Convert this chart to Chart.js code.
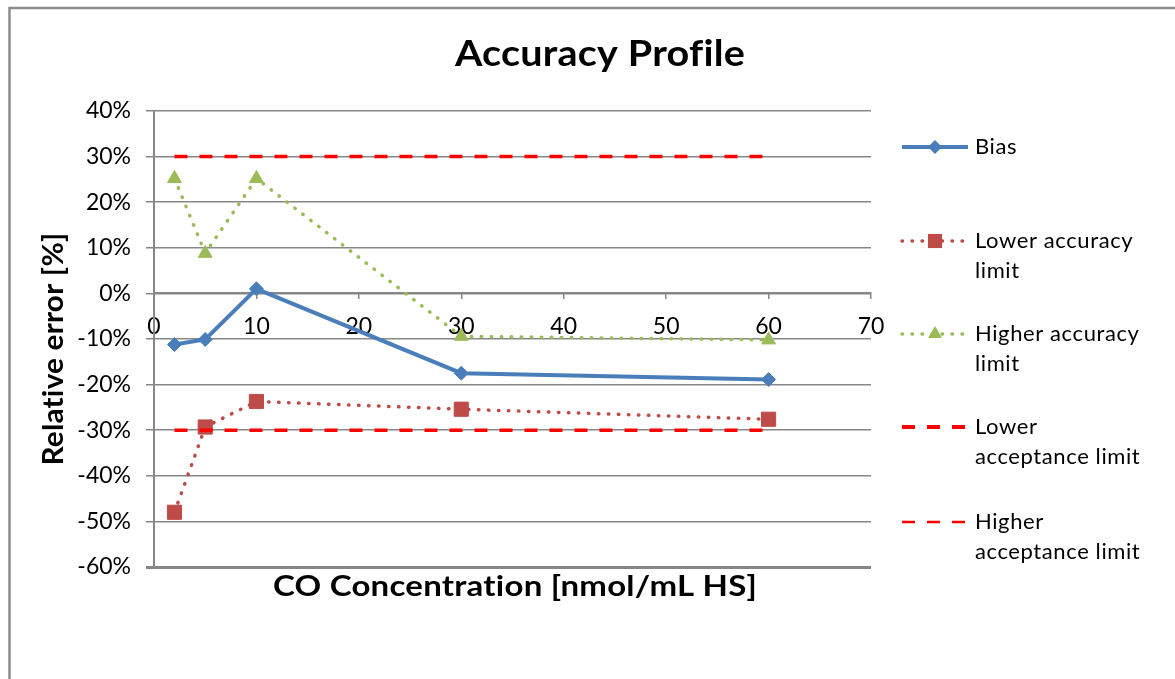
<!DOCTYPE html>
<html>
<head>
<meta charset="utf-8">
<script src="https://cdn.jsdelivr.net/npm/chart.js@4.4.0/dist/chart.umd.min.js"></script>
<style>
  html, body { margin: 0; padding: 0; background: #fff; overflow: hidden; }
  #wrap { position: relative; width: 1175px; height: 679px; }
</style>
</head>
<body>
<div id="wrap"><canvas id="myChart" width="1175" height="679"></canvas></div>
<script>
//DATA
const concentrations = [2, 5, 10, 30, 60];
const bias = [-11.2, -10.1, 1.0, -17.5, -18.9];
const lowerAccuracy = [-48.0, -29.3, -23.7, -25.4, -27.6];
const higherAccuracy = [25.2, 8.8, 25.2, -9.4, -10.2];
const lowerAcceptance = [-30, -30, -30, -30, -30];
const higherAcceptance = [30, 30, 30, 30, 30];

const seriesNames = [
  ["Bias"],
  ["Lower accuracy", "limit"],
  ["Higher accuracy", "limit"],
  ["Lower", "acceptance limit"],
  ["Higher", "acceptance limit"],
];
const chartTitle = "Accuracy Profile";
const xTitle = "CO Concentration [nmol/mL HS]";
const yTitle = "Relative error [%]";

const FONT = "Lato, 'Open Sans', sans-serif";
const GRID = "#878787";

function points(values) {
  return concentrations.map((c, i) => ({ x: c, y: values[i] }));
}

//DATASETS
const datasets = [
  {
    label: seriesNames[0].join(" "),
    data: points(bias),
    borderColor: "#4A7EBB",
    backgroundColor: "#4A7EBB",
    borderWidth: 4,
    pointStyle: "rectRot",
    pointRadius: 7,
    legendWidth: 4,
  },
  {
    label: seriesNames[1].join(" "),
    data: points(lowerAccuracy),
    borderColor: "#BE4B48",
    backgroundColor: "#BE4B48",
    borderWidth: 3.5,
    borderDash: [0.5, 9.5],
    borderCapStyle: "round",
    pointStyle: "rect",
    pointRadius: 10,
    legendWidth: 3.5,
  },
  {
    label: seriesNames[2].join(" "),
    data: points(higherAccuracy),
    borderColor: "#9BBB59",
    backgroundColor: "#9BBB59",
    borderWidth: 3.5,
    borderDash: [0.5, 9.5],
    borderCapStyle: "round",
    pointStyle: "triangle",
    pointRadius: 8,
    legendWidth: 3.5,
  },
  {
    label: seriesNames[3].join(" "),
    data: points(lowerAcceptance),
    borderColor: "#FF0000",
    backgroundColor: "#FF0000",
    borderWidth: 3.5,
    borderDash: [13, 12],
    pointRadius: 0,
    legendWidth: 4,
  },
  {
    label: seriesNames[4].join(" "),
    data: points(higherAcceptance),
    borderColor: "#FF0000",
    backgroundColor: "#FF0000",
    borderWidth: 3.5,
    borderDash: [13, 12],
    pointRadius: 0,
    legendWidth: 2.5,
  },
];
datasets.forEach((d, i) => {
  d.order = datasets.length - 1 - i; // later series on top, like Excel
  d.tension = 0;
  d.fill = false;
  d.pointBorderColor = d.borderColor;
  d.pointBackgroundColor = d.backgroundColor;
  d.pointBorderWidth = 1;
});

//LEGEND MARKER
function drawMarker(ctx, style, x, y, r, color) {
  ctx.save();
  ctx.fillStyle = color;
  ctx.beginPath();
  if (style === "rectRot") {
    ctx.moveTo(x, y - r); ctx.lineTo(x + r, y); ctx.lineTo(x, y + r); ctx.lineTo(x - r, y);
  } else if (style === "rect") {
    const s = r * Math.SQRT1_2;
    ctx.rect(x - s, y - s, 2 * s, 2 * s);
  } else if (style === "triangle") {
    ctx.moveTo(x, y - r);
    ctx.lineTo(x + r * Math.sin(Math.PI / 3), y + r / 2);
    ctx.lineTo(x - r * Math.sin(Math.PI / 3), y + r / 2);
  }
  ctx.closePath();
  ctx.fill();
  ctx.restore();
}

// text stretched to a given width (the original's bold text is set wide)
function wideText(ctx, text, x, y, target) {
  ctx.letterSpacing = "0.2px"; // also keeps "ti" from turning into a ligature
  const w = ctx.measureText(text).width;
  const sx = Math.max(1, target / w);
  ctx.save();
  ctx.translate(x, y);
  ctx.scale(sx, 1);
  ctx.fillText(text, 0, 0);
  ctx.restore();
  ctx.letterSpacing = "0px";
}

//DECORATION PLUGIN - frame, titles, legend
const decor = {
  id: "decor",
  beforeDraw(chart) {
    const ctx = chart.ctx;
    ctx.save();
    ctx.strokeStyle = "#8c8c8c";
    ctx.lineWidth = 2.5;
    ctx.strokeRect(9.5, 8, 1300, 800);
    ctx.restore();
  },
  afterDraw(chart) {
    const ctx = chart.ctx;
    ctx.save();
    ctx.fillStyle = "#000";
    ctx.textAlign = "center";
    ctx.textBaseline = "alphabetic";
    ctx.font = "bold 37px " + FONT;
    wideText(ctx, chartTitle, 600, 66, 290);
    ctx.font = "bold 29px " + FONT;
    wideText(ctx, xTitle, 515, 596, 484);

    ctx.translate(54, 349);
    ctx.rotate(-Math.PI / 2);
    ctx.textBaseline = "middle";
    ctx.font = "bold 28px " + FONT;
    wideText(ctx, yTitle, 0, 0, 233);
    ctx.restore();

    // legend
    const rows = [147, 241, 334, 427, 522];
    ctx.save();
    ctx.font = "22px " + FONT;
    ctx.textAlign = "left";
    ctx.textBaseline = "middle";
    chart.data.datasets.forEach((d, i) => {
      const y = rows[i];
      ctx.save();
      ctx.strokeStyle = d.borderColor;
      ctx.lineWidth = d.legendWidth;
      ctx.lineCap = d.borderCapStyle || "butt";
      ctx.setLineDash(d.borderDash || []);
      ctx.beginPath();
      ctx.moveTo(902, y);
      ctx.lineTo(968, y);
      ctx.stroke();
      ctx.restore();
      if (d.pointRadius > 0) {
        drawMarker(ctx, d.pointStyle, 935, y, d.pointRadius, d.backgroundColor);
      }
      ctx.fillStyle = "#000";
      seriesNames[i].forEach((line, k) => {
        ctx.letterSpacing = "0.6px";
        ctx.fillText(line, 975, y + k * 30);
        ctx.letterSpacing = "0px";
      });
    });
    ctx.restore();
  },
};

//CHART CONFIGURATION
const config = {
  type: "line",
  data: { datasets },
  options: {
    responsive: false,
    animation: false,
    events: [],
    layout: { padding: { left: 0, top: 111, right: 304, bottom: 112 } },
    plugins: {
      legend: { display: false },
      title: { display: false },
      tooltip: { enabled: false },
    },
    scales: {
      x: {
        type: "linear",
        position: { y: 0 },
        min: 0,
        max: 70,
        ticks: {
          stepSize: 10,
          padding: 14,
          color: "#000",
          font: { family: FONT, size: 23 },
        },
        grid: {
          drawOnChartArea: false,
          drawTicks: true,
          tickLength: 5,
          color: GRID,
          lineWidth: 1.5,
        },
        border: { display: true, color: GRID, width: 2 },
      },
      y: {
        type: "linear",
        min: -60,
        max: 40,
        afterFit(scale) {
          scale.width = 154;
        },
        ticks: {
          stepSize: 10,
          padding: 15,
          color: "#000",
          font: { family: FONT, size: 23 },
          callback: (v) => v + "%",
        },
        grid: {
          color: GRID,
          tickLength: 8,
          lineWidth: (c) => (c.tick && c.tick.value === -60 ? 3 : 1.5),
        },
        border: { display: true, color: GRID, width: 2 },
      },
    },
  },
  plugins: [decor],
};

// RENDER CHART
const myChart = new Chart(document.getElementById("myChart"), config);
</script>
</body>
</html>
